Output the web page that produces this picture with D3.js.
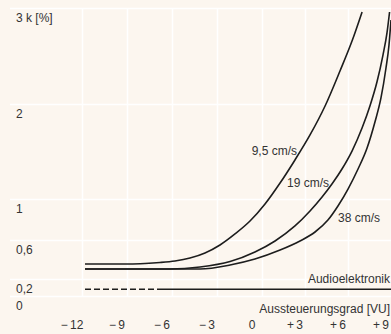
<!DOCTYPE html>
<html><head><meta charset="utf-8">
<script src="https://cdn.jsdelivr.net/npm/d3@7"></script>
<style>html,body{margin:0;padding:0;background:#fcf6ef;}svg{display:block;}</style>
</head><body>
<script>
// ---- data ----
const vuTicks = [-12, -9, -6, -3, 0, 3, 6, 9];
const vuTickLabels = ["\u2212\u200912", "\u2212\u20099", "\u2212\u20096", "\u2212\u20093", "0", "+\u20093", "+\u20096", "+\u20099"];
const kTicks = [0, 0.2, 0.6, 1, 2, 3];
const kTickLabels = ["0", "0,2", "0,6", "1", "2", "3 k [%]"];

const speedLabels = ["9,5 cm/s", "19 cm/s", "38 cm/s"];
const vu95 = [-11.8, -8.8, -7.8, -6.8, -5.8, -4.8, -3.8, -2.8, -1.8, -0.8, 0.21, 1.26, 2.3, 3.35, 4.4, 5.44, 6.28, 6.98];
const k95  = [0.354, 0.354, 0.359, 0.369, 0.385, 0.415, 0.467, 0.549, 0.659, 0.785, 0.951, 1.168, 1.411, 1.674, 1.979, 2.344, 2.656, 2.958];
const vu19 = [-11.8, -6.13, -4.13, -2.13, -0.47, 0.91, 2.3, 3.35, 4.19, 4.88, 5.58, 6.28, 6.98, 7.53, 8.02, 8.44, 8.72, 8.9];
const k19  = [0.303, 0.303, 0.323, 0.379, 0.477, 0.59, 0.737, 0.883, 1.021, 1.158, 1.316, 1.505, 1.747, 1.979, 2.229, 2.51, 2.74, 2.958];
const vu38 = [-11.8, -4.13, -2.13, -0.47, 1.26, 2.65, 3.7, 4.6, 5.3, 6.0, 6.7, 7.33, 7.88, 8.3, 8.65, 8.86, 9.0];
const k38  = [0.303, 0.303, 0.344, 0.405, 0.497, 0.59, 0.678, 0.795, 0.932, 1.105, 1.316, 1.537, 1.811, 2.063, 2.375, 2.615, 2.875];
const audioLabel = "Audioelektronik";
const vuAudioDashed = [-11.8, -6.8];
const vuAudioSolid = [-6.8, 9];
const kAudio = 0.08;
const xTitle = "Aussteuerungsgrad [VU]";

// ---- chart ----
const W = 391, H = 334;
const FONT = "'Liberation Sans', Arial, sans-serif";
const INK = "#1d1d1d", TXT = "#333";
const svg = d3.select("body").append("svg").attr("width", W).attr("height", H);
svg.append("rect").attr("width", W).attr("height", H).attr("fill", "#fcf6ef");

const x = d3.scaleLinear().domain(vuTicks).range([82, 127, 172, 217, 262, 305, 348, 391]);
const y = d3.scaleLinear().domain(kTicks).range([296, 279, 240, 199, 104, 8]);

// grid
const gx = svg.append("g").attr("transform", `translate(0,${y(0)})`)
  .call(d3.axisBottom(x).tickValues(vuTicks).tickSize(-(y(0) - y(3))).tickFormat(""));
gx.select(".domain").remove();
gx.selectAll("line").attr("stroke", "#fff").attr("stroke-width", 1.5);

const gy = svg.append("g").attr("transform", "translate(10,0)")
  .call(d3.axisRight(y).tickValues(kTicks).tickSize(W - 10).tickFormat(""));
gy.select(".domain").remove();
gy.selectAll("line").attr("stroke", "#fff").attr("stroke-width", 1.5);

// x labels
const lx = svg.append("g").attr("transform", "translate(0,320)")
  .call(d3.axisBottom(x).tickValues(vuTicks).tickSize(0).tickPadding(0)
    .tickFormat((d, i) => vuTickLabels[i]));
lx.select(".domain").remove();
lx.selectAll("text").attr("dx", -10.5).attr("fill", TXT)
  .attr("font-family", FONT).attr("font-size", 12);

// y labels
const ly = svg.append("g").attr("transform", "translate(16,0)")
  .call(d3.axisRight(y).tickValues(kTicks).tickSize(0).tickPadding(0)
    .tickFormat((d, i) => kTickLabels[i]));
ly.select(".domain").remove();
ly.selectAll("text").attr("y", 10).attr("fill", TXT)
  .attr("font-family", FONT).attr("font-size", 12);

// curves
const line = d3.line().x(d => x(d[0])).y(d => y(d[1])).curve(d3.curveMonotoneX);
const series = [d3.zip(vu95, k95), d3.zip(vu19, k19), d3.zip(vu38, k38)];
svg.append("g").selectAll("path").data(series).join("path")
  .attr("d", line).attr("fill", "none").attr("stroke", INK)
  .attr("stroke-width", 1.6).attr("stroke-linejoin", "round");

// audio electronics reference
svg.append("path").attr("d", line(vuAudioDashed.map(v => [v, kAudio])))
  .attr("fill", "none").attr("stroke", INK).attr("stroke-width", 1.6)
  .attr("stroke-dasharray", "6,3");
svg.append("path").attr("d", line(vuAudioSolid.map(v => [v, kAudio])))
  .attr("fill", "none").attr("stroke", INK).attr("stroke-width", 1.6);

// labels
const txt = (s, px, py, anchor) => svg.append("text").text(s)
  .attr("x", px).attr("y", py).attr("text-anchor", anchor || "start")
  .attr("fill", TXT).attr("font-family", FONT).attr("font-size", 12);
txt(speedLabels[0], 297, 155, "end");
txt(speedLabels[1], 287, 187);
txt(speedLabels[2], 338, 222);
txt(audioLabel, 390, 283, "end");
txt(xTitle, 390, 313, "end");
</script>
</body></html>
